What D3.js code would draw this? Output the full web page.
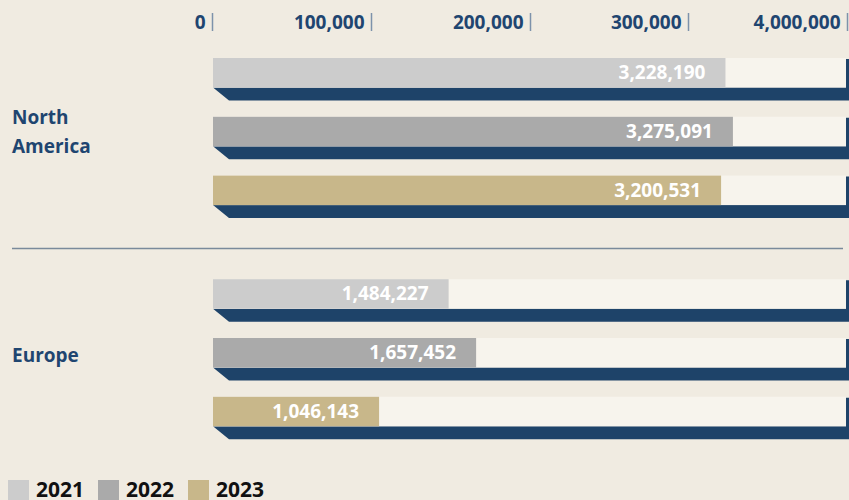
<!DOCTYPE html>
<html><head><meta charset="utf-8">
<script src="https://cdn.jsdelivr.net/npm/d3@7"></script>
<style>
html,body{margin:0;padding:0;background:#f0ebe1;}
svg{display:block;font-family:"Open Sans",sans-serif;}
</style></head>
<body>
<svg id="chart" width="849" height="500"></svg>
<script>
const regions = ["North America", "Europe"];
const regionLines = [["North", "America"], ["Europe"]];
const years = ["2021", "2022", "2023"];
const northAmerica = [3228190, 3275091, 3200531];
const europe = [1484227, 1657452, 1046143];
const tickValues = [0, 1000000, 2000000, 3000000, 4000000];
const tickLabels = ["0", "100,000", "200,000", "300,000", "4,000,000"];
const yearColors = ["#cccccc", "#aaaaaa", "#c8b78a"];

const seriesByRegion = [northAmerica, europe];
const svg = d3.select("#chart");
const W = 849;
const navy = "#1f4570";
const dark = "#1e4369";

const x = d3.scaleLinear().domain([0, 4000000]).range([213, 848]);
const yOuter = d3.scaleBand().domain(regions).range([58, 58 + 2 * 221.2]).padding(0);
const yInner = d3.scaleBand().domain(years).range([0, 3 * 58.8]).padding(0);
const barH = 29.5, shadowH = 13, trackEnd = 846;

// axis
const axisG = svg.append("g");
tickValues.forEach((v, i) => {
  const tx = Math.round(x(v)) - 0.5;
  axisG.append("line").attr("x1", tx).attr("x2", tx).attr("y1", 13).attr("y2", 31)
    .attr("stroke", "#7d92ab").attr("stroke-width", 1.5);
  axisG.append("text").attr("x", tx - 7).attr("y", 29).attr("text-anchor", "end")
    .attr("font-size", 19).attr("font-weight", 700).attr("fill", navy).text(tickLabels[i]);
});

// divider
svg.append("line").attr("x1", 12).attr("x2", 843).attr("y1", 248.5).attr("y2", 248.5)
  .attr("stroke", "#7a8a9b").attr("stroke-width", 1.5);

regions.forEach((r, ri) => {
  const g = svg.append("g").attr("transform", `translate(0,${yOuter(r)})`);
  const vals = seriesByRegion[ri];
  years.forEach((yr, yi) => {
    const top = yInner(yr);
    const bot = top + barH;
    const x0 = x(0);
    // dark bevelled base
    g.append("path")
      .attr("d", `M${x0},${bot} L${x0 + 16},${bot + shadowH} L${W + 5},${bot + shadowH} L${W + 5},${top + 1} L${trackEnd},${top + 1} L${trackEnd},${bot} Z`)
      .attr("fill", dark);
    // track
    g.append("rect").attr("x", x0).attr("y", top).attr("width", trackEnd - x0).attr("height", barH)
      .attr("fill", "#f7f4ed");
    // value bar
    g.append("rect").attr("x", x0).attr("y", top).attr("width", x(vals[yi]) - x0).attr("height", barH)
      .attr("fill", yearColors[yi]);
    g.append("text").attr("x", x(vals[yi]) - 20).attr("y", top + barH / 2 + 6.5)
      .attr("text-anchor", "end").attr("font-size", 19).attr("font-weight", 700)
      .attr("fill", "#ffffff").text(d3.format(",")(vals[yi]));
  });
  // region label centred on middle bar
  const cy = yInner(years[1]) + barH / 2;
  const lines = regionLines[ri];
  const lh = 29;
  const t = g.append("text").attr("font-size", 19).attr("font-weight", 700).attr("fill", navy);
  lines.forEach((ln, li) => {
    t.append("tspan").attr("x", 12)
      .attr("y", cy + 7 + (li - (lines.length - 1) / 2) * lh + (lines.length === 1 ? 2 : 0)).text(ln);
  });
});

// legend
const lg = svg.append("g");
const legX = [8, 98, 188];
years.forEach((yr, i) => {
  lg.append("rect").attr("x", legX[i]).attr("y", 480).attr("width", 21).attr("height", 21)
    .attr("fill", yearColors[i]);
  lg.append("text").attr("x", legX[i] + 28).attr("y", 496.5).attr("font-size", 21)
    .attr("font-weight", 700).attr("fill", "#111111").text(yr);
});
</script>
</body></html>
